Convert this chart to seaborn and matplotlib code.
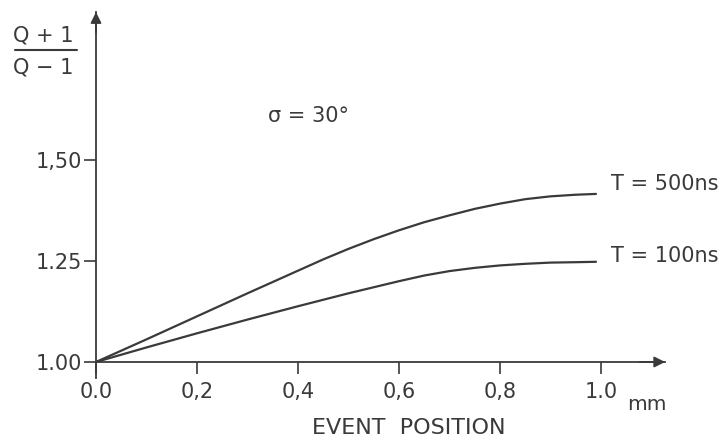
import numpy as np
import pandas as pd
import matplotlib
matplotlib.use("Agg")
import matplotlib.pyplot as plt
from matplotlib.lines import Line2D
import seaborn as sns

# Event position along the detector (mm)
position = [0.0, 0.1, 0.2, 0.3, 0.4, 0.45, 0.5, 0.55, 0.6, 0.65, 0.7,
            0.75, 0.8, 0.85, 0.9, 0.95, 0.99]
# (Q+1)/(Q-1) for the two shaping times
ratio_500ns = [1.000, 1.056, 1.113, 1.170, 1.226, 1.254, 1.280, 1.304, 1.326, 1.346, 1.363,
               1.379, 1.392, 1.403, 1.410, 1.414, 1.416]
ratio_100ns = [1.000, 1.036, 1.071, 1.105, 1.138, 1.154, 1.170, 1.185, 1.200, 1.214, 1.225,
               1.233, 1.239, 1.243, 1.246, 1.247, 1.248]
series_labels = ["T = 500ns", "T = 100ns"]

x_ticks = [0.0, 0.2, 0.4, 0.6, 0.8, 1.0]
x_ticklabels = ["0.0", "0,2", "0,4", "0,6", "0,8", "1.0"]
y_ticks = [1.00, 1.25, 1.50]
y_ticklabels = ["1.00", "1.25", "1,50"]

df = pd.DataFrame({
    "position": position * 2,
    "ratio": ratio_500ns + ratio_100ns,
    "T": [series_labels[0]] * len(position) + [series_labels[1]] * len(position),
})

sns.set_theme(style="white")
plt.rcParams["font.family"] = ["DejaVu Sans"]
ink = "#3a3a3a"

W, H = 725, 443
fig = plt.figure(figsize=(W / 100, H / 100), dpi=100)
fig.patch.set_facecolor("white")

x_max, y_min, y_max = 1.127, 0.96, 1.866
ax = fig.add_axes([96 / W, 0.1464, x_max * 505 / W, (y_max - y_min) * 404 / H])
ax.set_facecolor("white")

sns.lineplot(data=df, x="position", y="ratio", hue="T",
             palette=[ink, ink], linewidth=1.6, legend=False, ax=ax)

ax.set_xlim(0, x_max)
ax.set_ylim(y_min, y_max)

# axes drawn as crossing lines with arrow heads
for side in ["top", "right"]:
    ax.spines[side].set_visible(False)
ax.spines["bottom"].set_position(("data", 1.0))
ax.spines["left"].set_position(("data", 0.0))
for side in ["bottom", "left"]:
    ax.spines[side].set_color(ink)
    ax.spines[side].set_linewidth(1.3)
ax.annotate("", xy=(x_max, 1.0), xytext=(x_max - 0.05, 1.0),
            arrowprops=dict(arrowstyle="-|>", color=ink, lw=1.3, mutation_scale=16,
                            shrinkA=0, shrinkB=0), annotation_clip=False)
ax.annotate("", xy=(0.0, y_max), xytext=(0.0, y_max - 0.05),
            arrowprops=dict(arrowstyle="-|>", color=ink, lw=1.3, mutation_scale=16,
                            shrinkA=0, shrinkB=0), annotation_clip=False)

ax.set_xticks(x_ticks)
ax.set_xticklabels(x_ticklabels)
ax.set_yticks(y_ticks)
ax.set_yticklabels(y_ticklabels)
ax.tick_params(axis="both", direction="out", length=8.5, width=1.2, color=ink,
               labelcolor=ink, labelsize=15, bottom=True, left=True)
ax.tick_params(axis="x", pad=6)
ax.tick_params(axis="y", pad=1.5)
ax.set_xlabel("")
ax.set_ylabel("")

# curve labels at the line ends
ends = [ratio_500ns[-1], ratio_100ns[-1]]
offsets = [7, 4]
for lab, yend, dy in zip(series_labels, ends, offsets):
    ax.annotate(lab, xy=(position[-1], yend), xytext=(11, dy), textcoords="offset points",
                ha="left", va="center", fontsize=15, color=ink, annotation_clip=False)

# parameter note
ax.text(0.42, 1.61, "σ = 30°", fontsize=15, color=ink, ha="center", va="center")

# axis titles
fig.text(409 / W, 1 - 428.5 / H, "EVENT  POSITION", fontsize=16, color=ink,
         ha="center", va="center")
fig.text(647 / W, 1 - 404 / H, "mm", fontsize=14.5, color=ink, ha="center", va="center")

fig.text(43 / W, 1 - 36 / H, "Q + 1", fontsize=15, color=ink, ha="center", va="center")
fig.text(43 / W, 1 - 67 / H, "Q − 1", fontsize=15, color=ink, ha="center", va="center")
fig.add_artist(Line2D([15 / W, 77 / W], [1 - 50 / H, 1 - 50 / H],
                      transform=fig.transFigure, color=ink, lw=1.5))

fig.savefig("out.png", dpi=100, facecolor="white")
